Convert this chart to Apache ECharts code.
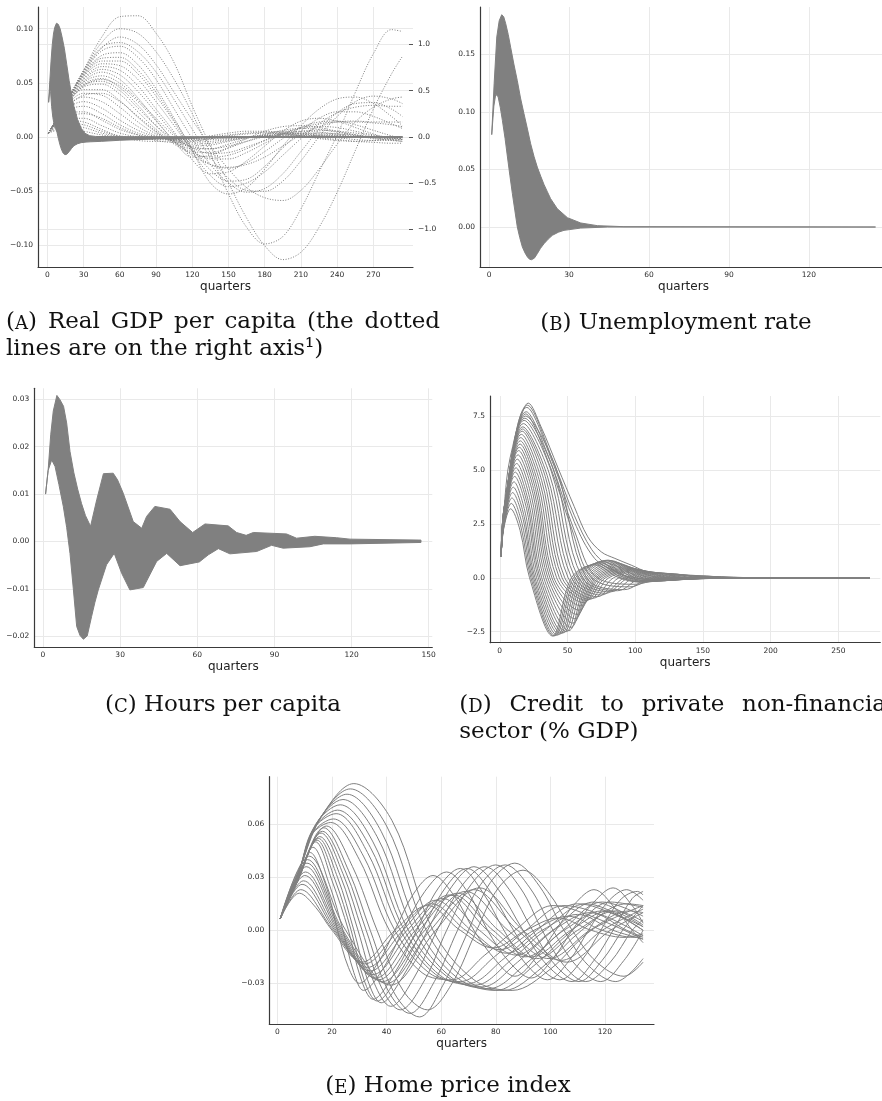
<!DOCTYPE html>
<html>
<head>
<meta charset="utf-8">
<script src="https://cdn.jsdelivr.net/npm/echarts@6/dist/echarts.min.js"></script>
<style>
  html, body { margin: 0; padding: 0; background: #fff; }
  #chart { width: 882px; height: 1101px; }
</style>
</head>
<body>
<div id="chart"></div>
<script>
// ---------- (A) Real GDP per capita ----------
// solid responses (left axis): outer envelope of the bundle
const gdpBandUpper = [[1,.032],[2,.052],[3,.070],[4,.085],[5,.095],[6,.101],[7.5,.105],[9,.104],[10.5,.100],[12,.093],[14,.082],[16,.067],[18,.052],[20,.039],[22,.028],[25,.016],[28,.008],[31,.0035],[35,.0012],[40,.0005],[60,.0003],[120,.0002],[294,.0001]];
const gdpBandLower = [[1,.032],[2,.044],[2.6,.042],[3.5,.028],[4.5,.018],[5.5,.012],[7,.0075],[8,.004],[9,-.001],[10,-.0055],[11,-.0095],[12,-.0125],[13,-.0148],[14.5,-.0163],[16,-.016],[18,-.0135],[20,-.0105],[22,-.008],[25,-.0062],[28,-.0052],[32,-.0047],[36,-.0044],[45,-.004],[60,-.003],[90,-.0018],[130,-.0009],[180,-.0004],[294,-.0002]];
// dotted responses (right axis), sampled at these quarters
const gdpQuarters = [1,15,30,45,60,75,90,105,120,135,150,165,180,195,210,225,240,255,270,285,294];
const gdpDotted = [
  [0.04,0.36,0.72,1.08,1.30,1.31,1.12,0.80,0.33,-0.10,-0.50,-0.88,-1.18,-1.33,-1.25,-0.98,-0.60,-0.15,0.30,0.68,0.87],
  [0.04,0.36,0.72,1.02,1.17,1.12,0.92,0.62,0.25,-0.18,-0.62,-0.98,-1.16,-1.08,-0.78,-0.38,0.02,0.48,0.90,1.16,1.14],
  [0.04,0.36,0.71,0.97,1.02,0.92,0.70,0.40,0.08,-0.22,-0.45,-0.58,-0.59,-0.48,-0.26,0.00,0.22,0.38,0.44,0.41,0.36],
  [0.04,0.36,0.70,0.96,1.08,1.00,0.78,0.48,0.18,-0.10,-0.35,-0.55,-0.66,-0.69,-0.58,-0.35,-0.08,0.16,0.32,0.41,0.43],
  [0.04,0.36,0.69,0.93,0.98,0.86,0.62,0.30,-0.02,-0.30,-0.50,-0.60,-0.56,-0.40,-0.16,0.08,0.26,0.36,0.37,0.30,0.22],
  [0.04,0.36,0.68,0.88,0.91,0.78,0.52,0.20,-0.15,-0.50,-0.62,-0.55,-0.35,-0.10,0.12,0.30,0.41,0.43,0.36,0.22,0.12],
  [0.04,0.36,0.67,0.85,0.86,0.72,0.48,0.18,-0.12,-0.36,-0.48,-0.46,-0.32,-0.12,0.06,0.20,0.27,0.27,0.22,0.14,0.09],
  [0.04,0.36,0.66,0.82,0.82,0.68,0.44,0.16,-0.16,-0.42,-0.54,-0.50,-0.38,-0.20,-0.02,0.14,0.26,0.32,0.34,0.33,0.33],
  [0.04,0.36,0.65,0.79,0.77,0.62,0.38,0.12,-0.14,-0.30,-0.34,-0.28,-0.16,-0.02,0.10,0.16,0.17,0.13,0.07,0.01,-0.02],
  [0.04,0.36,0.63,0.76,0.72,0.55,0.30,0.05,-0.25,-0.40,-0.38,-0.26,-0.10,0.06,0.17,0.20,0.17,0.10,0.03,-0.03,-0.05],
  [0.04,0.35,0.62,0.73,0.67,0.49,0.26,0.03,-0.15,-0.24,-0.24,-0.17,-0.07,0.03,0.09,0.11,0.10,0.06,0.02,-0.01,-0.03],
  [0.04,0.35,0.60,0.70,0.62,0.42,0.18,-0.05,-0.22,-0.20,-0.12,-0.02,0.06,0.11,0.12,0.10,0.06,0.02,-0.02,-0.04,-0.05],
  [0.04,0.35,0.59,0.66,0.58,0.40,0.20,0.01,-0.12,-0.18,-0.17,-0.11,-0.04,0.03,0.06,0.07,0.06,0.04,0.01,-0.01,-0.02],
  [0.04,0.35,0.57,0.63,0.53,0.34,0.12,-0.06,-0.16,-0.17,-0.12,-0.05,0.02,0.07,0.09,0.08,0.05,0.02,-0.01,-0.03,-0.03],
  [0.04,0.33,0.55,0.62,0.55,0.38,0.17,-0.04,-0.20,-0.30,-0.33,-0.30,-0.22,-0.10,0.02,0.11,0.16,0.17,0.16,0.16,0.16],
  [0.04,0.34,0.56,0.60,0.50,0.31,0.12,-0.03,-0.11,-0.13,-0.10,-0.05,0.00,0.03,0.04,0.04,0.03,0.02,0.00,-0.01,-0.01],
  [0.04,0.34,0.54,0.57,0.46,0.27,0.08,-0.06,-0.13,-0.13,-0.08,-0.02,0.03,0.06,0.06,0.05,0.03,0.01,-0.01,-0.02,-0.02],
  [0.04,0.33,0.51,0.51,0.39,0.21,0.05,-0.06,-0.10,-0.09,-0.05,-0.01,0.02,0.04,0.04,0.03,0.02,0.00,-0.01,-0.01,-0.01],
  [0.04,0.30,0.45,0.47,0.38,0.22,0.06,-0.08,-0.18,-0.22,-0.20,-0.13,-0.04,0.04,0.10,0.14,0.16,0.16,0.15,0.13,0.11],
  [0.04,0.32,0.47,0.45,0.32,0.16,0.03,-0.05,-0.08,-0.07,-0.04,-0.01,0.01,0.03,0.03,0.02,0.01,0.00,0.00,0.00,0.00],
  [0.04,0.31,0.43,0.38,0.25,0.11,0.01,-0.04,-0.06,-0.05,-0.03,-0.01,0.01,0.02,0.02,0.01,0.01,0.00,0.00,0.00,0.00],
  [0.04,0.29,0.38,0.31,0.18,0.07,0.00,-0.03,-0.04,-0.03,-0.02,0.00,0.01,0.01,0.01,0.01,0.00,0.00,0.00,0.00,0.00],
  [0.04,0.27,0.33,0.25,0.13,0.04,-0.01,-0.03,-0.03,-0.02,-0.01,0.00,0.00,0.01,0.01,0.00,0.00,0.00,0.00,0.00,0.00],
  [0.04,0.24,0.27,0.18,0.08,0.02,-0.01,-0.02,-0.02,-0.01,0.00,0.00,0.00,0.00,0.00,0.00,0.00,0.00,0.00,0.00,0.00],
  [0.04,0.20,0.25,0.20,0.10,0.02,-0.04,-0.06,-0.05,-0.02,0.01,0.03,0.04,0.03,0.01,-0.01,-0.03,-0.05,-0.06,-0.07,-0.07],
  [0.04,0.20,0.20,0.12,0.04,0.00,-0.01,-0.01,-0.01,0.00,0.00,0.00,0.00,0.00,0.00,0.00,0.00,0.00,0.00,0.00,0.00],
  [0.04,0.18,0.16,0.08,0.00,-0.04,-0.05,-0.04,-0.02,0.01,0.04,0.06,0.06,0.04,0.01,-0.02,-0.04,-0.05,-0.04,-0.02,0.00],
  [0.04,0.15,0.13,0.06,0.01,-0.01,-0.01,0.00,0.00,0.00,0.00,0.00,0.00,0.00,0.00,0.00,0.00,0.00,0.00,0.00,0.00],
  [0.04,0.12,0.10,0.04,0.00,-0.02,-0.03,-0.03,-0.02,0.00,0.02,0.04,0.05,0.05,0.03,0.01,-0.01,-0.03,-0.04,-0.04,-0.03],
  [0.04,0.09,0.06,0.02,0.00,0.00,0.00,0.00,0.00,0.00,0.00,0.00,0.00,0.00,0.00,0.00,0.00,0.00,0.00,0.00,0.00]
];
const gdpXTicks = [0,30,60,90,120,150,180,210,240,270];
const gdpYTicks = [-0.10,-0.05,0,0.05,0.10];
const gdpY2Ticks = [-1.0,-0.5,0,0.5,1.0];

// ---------- (B) Unemployment rate ----------
const unempBandUpper = [[1,.0802],[1.9,.1244],[2.9,.165],[3.8,.179],[4.75,.1843],[5.5,.1825],[6.25,.1765],[7.2,.167],[8.1,.156],[9.3,.1415],[10.6,.127],[11.8,.112],[13.1,.0984],[14.4,.085],[15.6,.0723],[16.9,.061],[18.1,.052],[19.4,.044],[20.6,.037],[21.9,.0305],[23.1,.0246],[25.6,.0159],[29.4,.0081],[34.4,.0035],[40.6,.0012],[50.6,.0003],[145,0]];
const unempBandLower = [[1,.0802],[1.8,.105],[2.5,.1152],[3.4,.113],[4.2,.104],[5,.0926],[6,.077],[6.9,.0608],[7.8,.045],[8.75,.0289],[9.7,.014],[10.6,0],[11.5,-.009],[12.5,-.0174],[13.5,-.0225],[14.4,-.026],[15.2,-.028],[15.9,-.0284],[17,-.027],[18.1,-.0231],[19.3,-.0185],[20.6,-.0145],[22.2,-.0105],[23.75,-.0072],[26,-.0045],[28.1,-.0029],[34.4,-.0009],[44.4,0],[145,0]];
const unempXTicks = [0,30,60,90,120];
const unempYTicks = [0,0.05,0.10,0.15];

// ---------- (C) Hours per capita ----------
const hoursBandUpper = [[1,.0100],[2,.0150],[3,.0225],[4,.0275],[5.4,.0308],[6.6,.0299],[8,.0285],[9.2,.025],[10.5,.019],[12,.0145],[13.5,.0110],[15,.0080],[16.5,.0055],[18.5,.0032],[20.9,.0088],[23.5,.0143],[27.3,.0144],[29,.013],[31.2,.0102],[35.1,.0042],[38.4,.0028],[40.3,.0053],[43.5,.0074],[49.4,.0068],[53.3,.0042],[58.2,.0019],[63,.0037],[72,.0033],[75.3,.0019],[79,.0013],[81.8,.0019],[94.7,.0016],[98.6,.0007],[105.7,.0011],[114.2,.0008],[119.4,.0005],[147,.0003]];
const hoursBandLower = [[1,.0100],[2,.0150],[3.4,.0172],[4.7,.0158],[6.2,.0120],[7.9,.0074],[9.2,.0030],[10.5,-.0025],[11.8,-.0100],[13.1,-.0179],[14.4,-.0198],[15.7,-.0206],[17.2,-.0199],[18.9,-.0158],[20.2,-.0128],[21.5,-.0102],[24.7,-.0049],[27.7,-.0025],[30.6,-.0067],[33.8,-.0102],[39,-.0097],[44.2,-.0042],[48.1,-.0025],[53.3,-.0051],[60.8,-.0043],[64.3,-.0028],[68.2,-.0015],[72.7,-.0026],[83.1,-.0021],[88.9,-.0008],[93.4,-.0014],[103.8,-.0011],[109,-.0005],[119.4,-.0005],[147,-.0002]];
const hoursXTicks = [0,30,60,90,120,150];
const hoursYTicks = [-0.02,-0.01,0,0.01,0.02,0.03];

// ---------- (D) Credit to private non-financial sector ----------
const creditPaths = [
  [[1,1],[3,2.3],[8,3.2],[15,2.2],[22,0],[39,-2.7],[53,0],[70,0.6],[88,0],[104,-0.2],[125,0],[273,0]],
  [[1,1],[3,2.35],[8.5,3.45],[15.7,2.35],[23,0],[40,-2.7],[54.5,0],[72,0.65],[90,0],[106,-0.2],[128,0],[273,0]],
  [[1,1],[3,2.4],[9,3.7],[16.5,2.5],[24,0],[41,-2.68],[56,0],[74,0.7],[92,0],[108,-0.2],[130,0],[273,0]],
  [[1,1],[3,2.45],[9.5,3.95],[17.3,2.7],[25,0],[42.5,-2.66],[57.5,0],[76,0.75],[95,0],[110,-0.18],[133,0],[273,0]],
  [[1,1],[3,2.5],[10,4.2],[18,2.85],[26,0],[44,-2.62],[59,0],[78,0.8],[98,0],[113,-0.17],[136,0],[273,0]],
  [[1,1],[3.1,2.55],[10.5,4.45],[18.9,3.0],[27.2,0],[45.5,-2.58],[60.5,0],[80,0.82],[100,0],[116,-0.16],[140,0],[273,0]],
  [[1,1],[3.2,2.6],[11,4.7],[19.8,3.2],[28.5,0],[47,-2.55],[62,0],[82,0.8],[102,0],[118,-0.15],[142,0],[273,0]],
  [[1,1],[3.3,2.68],[11.5,4.9],[20.6,3.35],[29.7,0],[49,-2.5],[63.5,0],[84,0.75],[104,0],[120,-0.14],[145,0],[273,0]],
  [[1,1],[3.4,2.75],[12,5.1],[21.5,3.45],[31,0],[51,-2.45],[65,0],[86,0.7],[106,0],[122,-0.13],[148,0],[273,0]],
  [[1,1],[3.45,2.8],[12.5,5.3],[22.5,3.6],[32.5,0],[52.5,-2.3],[66.5,0],[88,0.65],[108,0],[124,-0.12],[150,0],[273,0]],
  [[1,1],[3.5,2.85],[13,5.5],[23.5,3.75],[34,0],[54,-2.1],[68,0],[90,0.6],[110,0],[126,-0.11],[152,0],[273,0]],
  [[1,1],[3.5,2.9],[13.5,5.7],[24.5,3.9],[35.5,0],[55.5,-1.9],[69.5,0],[92,0.55],[112,0],[128,-0.1],[155,0],[273,0]],
  [[1,1],[3.5,2.95],[14,5.9],[25.5,4.0],[37,0],[57,-1.7],[71,0],[94,0.5],[114,0],[130,-0.09],[158,0],[273,0]],
  [[1,1],[3.5,3.0],[14.5,6.05],[26.5,4.1],[38.5,0],[58.5,-1.5],[72.5,0],[96,0.46],[116,0],[132,-0.08],[160,0],[273,0]],
  [[1,1],[3.5,3.05],[15,6.2],[27.5,4.2],[40,0],[60,-1.3],[74,0],[98,0.43],[118,0],[134,-0.07],[162,0],[273,0]],
  [[1,1],[3.5,3.08],[15.2,6.35],[28.6,4.3],[42,0],[62,-1.15],[76,0],[100,0.4],[120,0],[136,-0.06],[165,0],[273,0]],
  [[1,1],[3.5,3.1],[15.5,6.5],[29.8,4.4],[44,0],[64,-1.05],[78,0],[102,0.37],[122,0],[138,-0.06],[168,0],[273,0]],
  [[1,1],[3.5,3.12],[16,6.65],[31,4.5],[46,0],[66.5,-1.0],[80.5,0],[104,0.34],[125,0],[141,-0.05],[170,0],[273,0]],
  [[1,1],[3.5,3.15],[16.5,6.8],[32.3,4.6],[48,0],[69,-0.95],[84,0],[106,0.31],[128,0],[144,-0.05],[172,0],[273,0]],
  [[1,1],[3.5,3.18],[16.8,6.9],[33.6,4.7],[50.5,0],[72,-0.88],[88,0],[110,0.28],[132,0],[175,0],[273,0]],
  [[1,1],[3.5,3.2],[17,7.0],[35,4.75],[53,0],[75,-0.8],[92,0],[113,0.26],[136,0],[178,0],[273,0]],
  [[1,1],[3.45,3.22],[17.5,7.15],[36.5,4.85],[55.5,0],[78,-0.72],[95,0],[116,0.24],[140,0],[182,0],[273,0]],
  [[1,1],[3.4,3.25],[18,7.3],[38,4.95],[58,0],[82,-0.65],[99,0],[120,0.22],[145,0],[186,0],[273,0]],
  [[1,1],[3.4,3.28],[18.5,7.4],[39.7,5.0],[61,0],[87,-0.6],[104,0],[125,0.2],[150,0],[190,0],[273,0]],
  [[1,1],[3.4,3.3],[19,7.5],[41.5,5.1],[64,0],[92,-0.55],[110,0],[130,0.16],[155,0],[195,0],[273,0]],
  [[1,1],[3.4,3.3],[19.2,7.6],[37,5.2],[53,2.3],[68,0],[96,-0.42],[114,0],[135,0.12],[160,0],[273,0]],
  [[1,1],[3.4,3.3],[19.5,7.7],[38,5.3],[55,2.2],[72,0],[100,-0.3],[120,0],[145,0.1],[175,0],[273,0]],
  [[1,1],[3.4,3.32],[20,7.9],[40,5.2],[55,2.6],[70,0.9],[85,0.3],[95,0],[110,-0.15],[130,0],[155,0.06],[190,0],[273,0]],
  [[1,1],[3.4,3.33],[20.5,8.0],[41,5.15],[55,2.9],[68,1.3],[80,0.55],[92,0.12],[100,0],[115,-0.1],[135,0],[190,0],[273,0]],
  [[1,1],[3.4,3.35],[6,5.0],[9.6,6.1],[13.3,7.0],[21,8.1],[30.5,7.0],[43,5.1],[55,3.3],[65,1.9],[75,1.2],[85,0.9],[97,0.59],[109,0.28],[124,0.2],[141,0.12],[171,0.02],[200,0],[273,0]]
];
const creditXTicks = [0,50,100,150,200,250];
const creditYTicks = [-2.5,0,2.5,5.0,7.5];

// ---------- (E) Home price index ----------
const homePaths = [
  [[1,.0066],[8,.034],[16,.064],[28,.083],[42,.062],[57,0],[72,-.028],[86,-.034],[100,-.022],[115,0],[134,.014]],
  [[1,.0066],[8,.034],[15.5,.063],[26.7,.080],[40,.059],[54.5,0],[69,-.028],[83,-.034],[97,-.021],[111.5,0],[128,.015],[134,.014]],
  [[1,.0066],[8,.034],[15,.062],[25.5,.077],[38,.056],[52,0],[66,-.027],[80,-.034],[94,-.02],[108,0],[122,.016],[134,.013]],
  [[1,.0066],[8,.034],[14.5,.061],[24,.074],[36.5,.053],[50,0],[64,-.027],[77.5,-.033],[91,-.019],[104.5,0],[119,.016],[134,.008]],
  [[1,.0066],[8,.034],[14,.06],[23,.071],[35,.05],[48,0],[62,-.026],[75,-.032],[88,-.018],[101,0],[116,.016],[134,.003]],
  [[1,.0066],[8,.034],[13.5,.058],[22,.068],[34,.047],[46.5,0],[60,-.026],[72.5,-.031],[85.5,-.017],[98,0],[113,.015],[130,.005],[134,.002]],
  [[1,.0066],[8,.034],[13,.057],[21.5,.066],[33,.044],[45,0],[58,-.025],[70,-.03],[83,-.016],[95,0],[110,.015],[125,.008],[134,0]],
  [[1,.0066],[8,.034],[12.8,.055],[20.5,.063],[31.5,.042],[43,0],[55.5,-.024],[67,-.029],[79.5,-.015],[91,0],[105,.014],[120,.008],[134,-.003]],
  [[1,.0066],[8,.033],[12.5,.054],[19.5,.061],[30,.04],[41,0],[53,-.024],[64,-.028],[76,-.014],[87,0],[101,.014],[115,.008],[134,-.005]],
  [[1,.0066],[8,.032],[18,.059],[27.5,.036],[36.5,0],[46,-.034],[55,-.045],[64,-.03],[73,0],[81,.024],[90,.034],[99,.022],[108,0],[117,-.018],[127,-.026],[134,-.018]],
  [[1,.0066],[8,.032],[17,.058],[26,.034],[34,0],[43,-.036],[52,-.049],[61,-.03],[70,0],[78,.027],[87,.038],[96,.025],[105,0],[114,-.02],[124,-.029],[134,-.016]],
  [[1,.0066],[8,.031],[16.5,.056],[25,.033],[32.5,0],[40.5,-.034],[48.5,-.047],[57.5,-.029],[66,0],[74.5,.026],[83.5,.037],[92.5,.024],[101,0],[109.5,-.02],[118.5,-.029],[127,-.017],[134,0]],
  [[1,.0066],[8,.031],[16,.055],[24,.032],[31,0],[38,-.032],[45,-.045],[54,-.028],[62,0],[71,.026],[80,.037],[89,.024],[97,0],[105,-.02],[113,-.029],[122,-.018],[130,0],[134,.006]],
  [[1,.0066],[8,.031],[15.5,.053],[23,.031],[29.5,0],[35.5,-.03],[41.5,-.043],[50,-.027],[58.5,0],[67.5,.025],[76,.036],[85,.023],[93.5,0],[102,-.02],[110.5,-.029],[119,-.017],[126.5,0],[134,.014]],
  [[1,.0066],[8,.031],[15,.052],[22,.03],[28,0],[33,-.028],[38,-.041],[46,-.026],[55,0],[64,.025],[72,.036],[81,.023],[90,0],[99,-.02],[108,-.029],[116,-.017],[123,0],[130,.018],[134,.022]],
  [[1,.0066],[8,.03],[14.5,.051],[21,.029],[27,0],[31.7,-.028],[36.5,-.04],[44.5,-.025],[53,0],[61.5,.024],[69.5,.035],[78,.022],[86.5,0],[95,-.019],[103.5,-.028],[111.5,-.017],[118.5,0],[125.5,.017],[132,.022],[134,.02]],
  [[1,.0066],[8,.03],[14,.05],[20,.028],[26,0],[30.5,-.027],[35,-.039],[43,-.024],[51,0],[59,.024],[67,.035],[75,.022],[83,0],[91,-.019],[99,-.028],[107,-.017],[114,0],[121,.016],[128,.023],[134,.017]],
  [[1,.0066],[7.5,.029],[13,.047],[19,.026],[24,0],[28,-.024],[31.5,-.034],[39,-.021],[46,0],[54,.022],[62,.033],[70,.021],[77,0],[85,-.018],[93,-.027],[101,-.016],[108,0],[116,.016],[123,.024],[130,.014],[134,.004]],
  [[1,.0066],[7.5,.028],[12,.044],[18,.024],[22,0],[26,-.021],[30,-.03],[37,-.018],[43,0],[50,.021],[57,.031],[65,.019],[72,0],[80,-.017],[87,-.026],[95,-.015],[102,0],[109,.015],[116,.023],[124,.012],[130,0],[134,-.007]],
  [[1,.0066],[8,.021],[14,.013],[20,0],[31,-.018],[43,0],[55,.014],[67,0],[79,-.01],[91,0],[103,.007],[115,0],[127,-.004],[134,-.002]],
  [[1,.0066],[8.5,.023],[20.5,0],[32,-.019],[44.5,0],[56.5,.015],[69,0],[81.5,-.011],[94,0],[106.5,.008],[119,0],[131,-.004],[134,-.003]],
  [[1,.0066],[9,.026],[21,0],[33,-.021],[46,0],[58,.017],[71,0],[84,-.013],[97,0],[110,.009],[123,0],[134,-.005]],
  [[1,.0066],[9.5,.028],[21.5,0],[34,-.023],[47.5,0],[60.5,.018],[74,0],[87.5,-.014],[101,0],[114.5,.01],[128,0],[134,-.004]],
  [[1,.0066],[10,.031],[22,0],[35,-.025],[49,0],[63,.02],[77,0],[91,-.015],[105,0],[119,.011],[134,0]],
  [[1,.0066],[10.2,.033],[22.5,0],[36,-.027],[50.5,0],[64.5,.02],[79,0],[93,-.015],[107.5,0],[121.5,.011],[134,.002]],
  [[1,.0066],[10.5,.036],[23,0],[37,-.028],[52,0],[66,.021],[81,0],[95,-.016],[110,0],[124,.011],[134,.005]],
  [[1,.0066],[10.8,.038],[23.5,0],[38.5,-.029],[54,0],[69,.022],[84.5,0],[99.5,-.016],[114.5,0],[129,.011],[134,.01]],
  [[1,.0066],[11,.04],[24,0],[40,-.03],[56,0],[72,.023],[88,0],[104,-.017],[119,0],[134,.012]],
  [[1,.0066],[11.5,.042],[25,0],[41.5,-.031],[58,0],[74,.024],[90,0],[106,-.018],[122,0],[134,.01]]
];
const homeXTicks = [0,20,40,60,80,100,120];
const homeYTicks = [-0.03,0,0.03,0.06];

// ---------- captions ----------
const captionA1 = ['({sc|A})', 'Real', 'GDP', 'per', 'capita', '(the', 'dotted'];
const captionA2 = 'lines are on the right axis\u00B9)';
const captionB = '({sc|B}) Unemployment rate';
const captionC = '({sc|C}) Hours per capita';
const captionD1 = ['({sc|D})', 'Credit', 'to', 'private', 'non-financial'];
const captionD2 = 'sector (% GDP)';
const captionE = '({sc|E}) Home price index';

// ---------- drawing ----------
const GRAY = '#808080';
const SANS = 'DejaVu Sans';
const SERIF = 'DejaVu Serif';
const CAP_SIZE = 23;
const SC_SIZE = 18;
const tickText = { fontFamily: SANS, fontSize: 7.5, color: '#2b2b2b' };
const gridLine = { show: true, lineStyle: { color: '#e9e9e9', width: 1 } };
const axisLineStyle = { show: true, onZero: false, lineStyle: { color: '#3a3a3a', width: 1.2 } };

function signed(dec) {
  return v => (v < 0 ? '\u2212' : '') + Math.abs(v).toFixed(dec);
}

function makeX(gi, min, max, ticks) {
  return {
    type: 'value', gridIndex: gi, min: min, max: max,
    name: 'quarters', nameLocation: 'middle', nameGap: 14,
    nameTextStyle: { fontFamily: SANS, fontSize: 12, color: '#222' },
    axisLine: axisLineStyle,
    axisTick: { show: false, customValues: ticks },
    axisLabel: Object.assign({ customValues: ticks, margin: 4, formatter: v => String(v) }, tickText),
    splitLine: gridLine
  };
}

function makeY(gi, min, max, ticks, dec, extra) {
  return Object.assign({
    type: 'value', gridIndex: gi, min: min, max: max,
    axisLine: axisLineStyle,
    axisTick: { show: false, customValues: ticks },
    axisLabel: Object.assign({ customValues: ticks, margin: 5, formatter: signed(dec) }, tickText),
    splitLine: gridLine
  }, extra || {});
}

// filled region between the upper and lower edge of a dense bundle
function bandSeries(xi, yi, upper, lower) {
  const ring = upper.concat(lower.slice().reverse());
  return {
    type: 'custom', xAxisIndex: xi, yAxisIndex: yi, silent: true, z: 4, clip: true,
    data: [ring[0]],
    renderItem: (params, api) => ({
      type: 'polygon',
      shape: { points: ring.map(p => api.coord(p)) },
      style: { fill: GRAY, stroke: GRAY, lineWidth: 1 }
    })
  };
}

function lineSeries(xi, yi, pts, lineStyle, z) {
  return {
    type: 'line', xAxisIndex: xi, yAxisIndex: yi, data: pts,
    symbol: 'none', showSymbol: false, smooth: 0.35, silent: true, clip: true,
    lineStyle: lineStyle, z: z || 2
  };
}

const series = [];
// (A) dotted lines on the right axis, under the solid bundle
gdpDotted.forEach(vals => {
  series.push(lineSeries(0, 1, gdpQuarters.map((q, i) => [q, vals[i]]),
    { color: '#7d7d7d', width: 1, type: [1, 1.6] }, 2));
});
series.push(bandSeries(0, 0, gdpBandUpper, gdpBandLower));
// (B), (C)
series.push(bandSeries(1, 2, unempBandUpper, unempBandLower));
series.push(bandSeries(2, 3, hoursBandUpper, hoursBandLower));
// (D), (E)
creditPaths.forEach(p => series.push(lineSeries(3, 4, p, { color: GRAY, width: 1 })));
homePaths.forEach(p => series.push(lineSeries(4, 5, p, { color: GRAY, width: 1 })));

// ---------- captions (justified where the text block is justified) ----------
const mctx = document.createElement('canvas').getContext('2d');
function textWidth(t) {
  let w = 0;
  t.replace(/\{sc\|([^}]*)\}|([^{]+)/g, (m, sc, plain) => {
    mctx.font = (sc ? SC_SIZE : CAP_SIZE) + 'px "DejaVu Serif"';
    w += mctx.measureText(sc || plain).width;
    return m;
  });
  return w;
}
function cap(text, x, baseline, align) {
  return {
    type: 'text', x: x, y: baseline - 7.8, silent: true,
    style: {
      text: text, fill: '#111', fontFamily: SERIF, fontSize: CAP_SIZE,
      align: align || 'left', verticalAlign: 'middle',
      rich: { sc: { fontFamily: SERIF, fontSize: SC_SIZE, fill: '#111', verticalAlign: 'bottom' } }
    }
  };
}
function justified(words, left, right, baseline) {
  const widths = words.map(textWidth);
  const total = widths.reduce((a, b) => a + b, 0);
  const gap = (right - left - total) / (words.length - 1);
  let x = left;
  return words.map((w, i) => { const el = cap(w, x, baseline); x += widths[i] + gap; return el; });
}
const graphic = [].concat(
  justified(captionA1, 6, 440, 330),
  [cap(captionA2, 6, 357)],
  [cap(captionB, 676, 331, 'center')],
  [cap(captionC, 223, 713, 'center')],
  justified(captionD1, 459.3, 893.3, 713),
  [cap(captionD2, 459.3, 740)],
  [cap(captionE, 448, 1094, 'center')]
);

const option = {
  animation: false,
  backgroundColor: '#ffffff',
  grid: [
    { left: 38,    top: 7,     width: 375,   height: 260,   containLabel: false, outerBoundsMode: 'none' },
    { left: 480,   top: 7,     width: 407,   height: 260,   containLabel: false, outerBoundsMode: 'none' },
    { left: 34.3,  top: 388.3, width: 398,   height: 259,   containLabel: false, outerBoundsMode: 'none' },
    { left: 490,   top: 396,   width: 390.3, height: 246.7, containLabel: false, outerBoundsMode: 'none' },
    { left: 269.3, top: 776.7, width: 384.7, height: 247.3, containLabel: false, outerBoundsMode: 'none' }
  ],
  xAxis: [
    makeX(0, -7.8, 302.8, gdpXTicks),
    makeX(1, -3.4, 149.3, unempXTicks),
    makeX(2, -3.38, 151.4, hoursXTicks),
    makeX(3, -7.2, 281, creditXTicks),
    makeX(4, -3, 138, homeXTicks)
  ],
  yAxis: [
    makeY(0, -0.12, 0.12, gdpYTicks, 2),
    makeY(0, -1.41, 1.405, gdpY2Ticks, 1, {
      position: 'right',
      axisLine: { show: false, onZero: false },
      axisTick: { show: true, inside: true, length: 4, customValues: gdpY2Ticks, lineStyle: { color: '#555', width: 1 } },
      axisLabel: Object.assign({ customValues: gdpY2Ticks, margin: 5, formatter: signed(1) }, tickText)
    }),
    makeY(1, -0.0347, 0.191, unempYTicks, 2),
    makeY(2, -0.0223, 0.0323, hoursYTicks, 2),
    makeY(3, -3.01, 8.43, creditYTicks, 1),
    makeY(4, -0.053, 0.0869, homeYTicks, 2)
  ],
  series: series,
  graphic: graphic
};

const chart = echarts.init(document.getElementById('chart'), null, { renderer: 'canvas' });
chart.setOption(option);
</script>
</body>
</html>
